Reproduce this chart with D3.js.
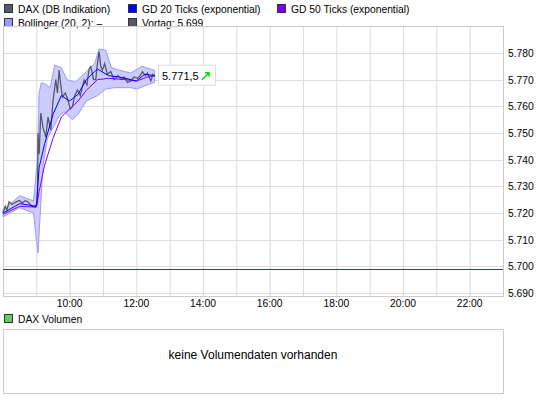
<!DOCTYPE html><html><head><script src="https://d3js.org/d3.v7.min.js"></script>
<style>body{margin:0;background:#fff}text{font-family:"Liberation Sans",Arial,sans-serif;font-size:10.3px;fill:#000}</style></head><body><svg id="c" width="545" height="408"></svg><script>
const dax=[["8:00",5.7200],["8:04",5.7225],["8:07",5.7212],["8:11",5.7242],["8:16",5.7232],["8:22",5.7240],["8:29",5.7247],["8:35",5.7238],["8:40",5.7246],["8:44",5.7243],["8:50",5.7230],["8:56",5.7222],["9:02",5.7236],["9:03",5.7500],["9:05",5.7420],["9:08",5.7575],["9:12",5.7520],["9:17",5.7485],["9:21",5.7560],["9:26",5.7511],["9:30",5.7620],["9:35",5.7700],["9:38",5.7650],["9:41",5.7736],["9:44",5.7680],["9:47",5.7636],["9:52",5.7650],["9:56",5.7630],["10:01",5.7590],["10:05",5.7599],["10:09",5.7640],["10:14",5.7661],["10:19",5.7640],["10:26",5.7699],["10:31",5.7680],["10:35",5.7740],["10:38",5.7749],["10:43",5.7700],["10:47",5.7700],["10:50",5.7760],["10:53",5.7805],["10:56",5.7750],["10:59",5.7736],["11:03",5.7760],["11:08",5.7720],["11:14",5.7730],["11:20",5.7700],["11:27",5.7715],["11:33",5.7700],["11:38",5.7710],["11:44",5.7690],["11:50",5.7695],["11:56",5.7710],["12:02",5.7705],["12:07",5.7715],["12:11",5.7730],["12:16",5.7715],["12:20",5.7725],["12:26",5.7695],["12:30",5.7720],["12:33",5.7711]];
const gd20=[["8:00",5.7200],["8:30",5.7235],["9:00",5.7225],["9:05",5.7370],["9:15",5.7460],["9:30",5.7570],["9:45",5.7640],["10:00",5.7620],["10:15",5.7645],["10:30",5.7700],["10:50",5.7740],["11:10",5.7715],["11:30",5.7710],["12:00",5.7695],["12:15",5.7720],["12:33",5.7715]];
const gd50=[["8:00",5.7195],["8:30",5.7225],["9:00",5.7222],["9:05",5.7280],["9:15",5.7380],["9:30",5.7480],["9:45",5.7560],["10:00",5.7590],["10:15",5.7620],["10:30",5.7660],["10:50",5.7700],["11:10",5.7705],["11:40",5.7700],["12:00",5.7695],["12:20",5.7710],["12:33",5.7715]];
const bbUpper=[["8:00",5.7210],["8:30",5.7265],["8:55",5.7245],["9:02",5.7400],["9:05",5.7650],["9:09",5.7688],["9:15",5.7685],["9:25",5.7670],["9:33",5.7755],["9:45",5.7745],["9:55",5.7700],["10:10",5.7690],["10:30",5.7730],["10:45",5.7760],["10:53",5.7815],["11:05",5.7810],["11:15",5.7745],["11:30",5.7735],["11:50",5.7725],["12:10",5.7750],["12:33",5.7735]];
const bbLower=[["8:00",5.7185],["8:30",5.7220],["8:55",5.7200],["9:00",5.7100],["9:03",5.7050],["9:06",5.7160],["9:12",5.7380],["9:20",5.7480],["9:30",5.7520],["9:40",5.7560],["9:50",5.7580],["10:05",5.7550],["10:15",5.7570],["10:30",5.7620],["10:50",5.7640],["11:05",5.7665],["11:20",5.7670],["11:50",5.7670],["12:00",5.7665],["12:20",5.7680],["12:33",5.7690]];
const yTicks=[5.690,5.700,5.710,5.720,5.730,5.740,5.750,5.760,5.770,5.780];
const xTickLabels=["10:00","12:00","14:00","16:00","18:00","20:00","22:00"];
const prevClose=5.699, lastVal=5.7715;
const legend=[["DAX (DB Indikation)","#555a6a",4,4],["GD 20 Ticks (exponential)","#0000ff",128,4],["GD 50 Ticks (exponential)","#7a00ff",277,4],["Bollinger (20, 2):  \u2013","#9999ff",4,18],["Vortag: 5.699","#555a6a",128,18]];

const svg=d3.select("#c");
const mins=s=>{const[h,m]=s.split(":").map(Number);return h*60+m;};
const L=3,R=503,T=26,B=296;
const x=d3.scaleLinear().domain([480,1380]).range([L,R]);
const y=d3.scaleLinear().domain([5.690,5.780]).range([293,53]);
legend.forEach(([t,c,lx,ly])=>{svg.append("rect").attr("x",lx+0.5).attr("y",ly+0.5).attr("width",8).attr("height",8).attr("fill",c).attr("stroke","#333");svg.append("text").attr("x",lx+14).attr("y",ly+9).text(t);});
const g=svg.append("g");
d3.range(540,1380,60).forEach(m=>g.append("line").attr("x1",x(m)+.5).attr("x2",x(m)+.5).attr("y1",T).attr("y2",B).attr("stroke","#ddd"));
yTicks.forEach(v=>g.append("line").attr("x1",L).attr("x2",R).attr("y1",Math.round(y(v))+.5).attr("y2",Math.round(y(v))+.5).attr("stroke","#ddd"));
g.append("rect").attr("x",L+.5).attr("y",T+.5).attr("width",R-L).attr("height",B-T).attr("fill","none").attr("stroke","#ccc");
yTicks.forEach(v=>svg.append("text").attr("x",508).attr("y",y(v)+4).text(d3.format(".3f")(v)));
xTickLabels.forEach(t=>svg.append("text").attr("x",x(mins(t))).attr("y",307).attr("text-anchor","middle").text(t));
const bb=bbUpper.map(d=>[mins(d[0]),d[1]]),bl=bbLower.map(d=>[mins(d[0]),d[1]]);
const area=[...bb,...bl.slice().reverse()];
g.append("path").attr("d",d3.line().x(d=>x(d[0])).y(d=>y(d[1]))(area)+"Z").attr("fill","#ccccff").attr("stroke","#9999ff");
g.append("line").attr("x1",L).attr("x2",R).attr("y1",Math.round(y(prevClose))+.5).attr("y2",Math.round(y(prevClose))+.5).attr("stroke","#334477");
const ln=d3.line().x(d=>x(mins(d[0]))).y(d=>y(d[1]));
g.append("path").attr("d",ln(dax)).attr("fill","none").attr("stroke","#555a6a").attr("stroke-width",1.3);
g.append("path").attr("d",ln(gd50)).attr("fill","none").attr("stroke","#8000ff");
g.append("path").attr("d",ln(gd20)).attr("fill","none").attr("stroke","#0000ff");
const ly=y(lastVal);
svg.append("rect").attr("x",158.5).attr("y",ly-10.5).attr("width",57).attr("height",20).attr("fill","#fff").attr("stroke","#ddd");
svg.append("text").attr("x",162).attr("y",ly+4).style("font-size","11px").text(d3.format(".1f")(lastVal*1000).replace(/(\d)(\d{3})\./,"$1.$2,"));
svg.append("path").attr("d",`M202,${ly+4}L209,${ly-3}M205,${ly-3}L209,${ly-3}L209,${ly+1}`).attr("stroke","#00dd00").attr("stroke-width",1.5).attr("fill","none");
svg.append("rect").attr("x",4.5).attr("y",314.5).attr("width",8).attr("height",8).attr("fill","#66cc66").attr("stroke","#333");
svg.append("text").attr("x",18).attr("y",323).text("DAX Volumen");
svg.append("rect").attr("x",3.5).attr("y",329.5).attr("width",500).attr("height",64).attr("fill","none").attr("stroke","#ccc");
svg.append("text").attr("x",253).attr("y",359).attr("text-anchor","middle").style("font-size","12px").text("keine Volumendaten vorhanden");
</script></body></html>
